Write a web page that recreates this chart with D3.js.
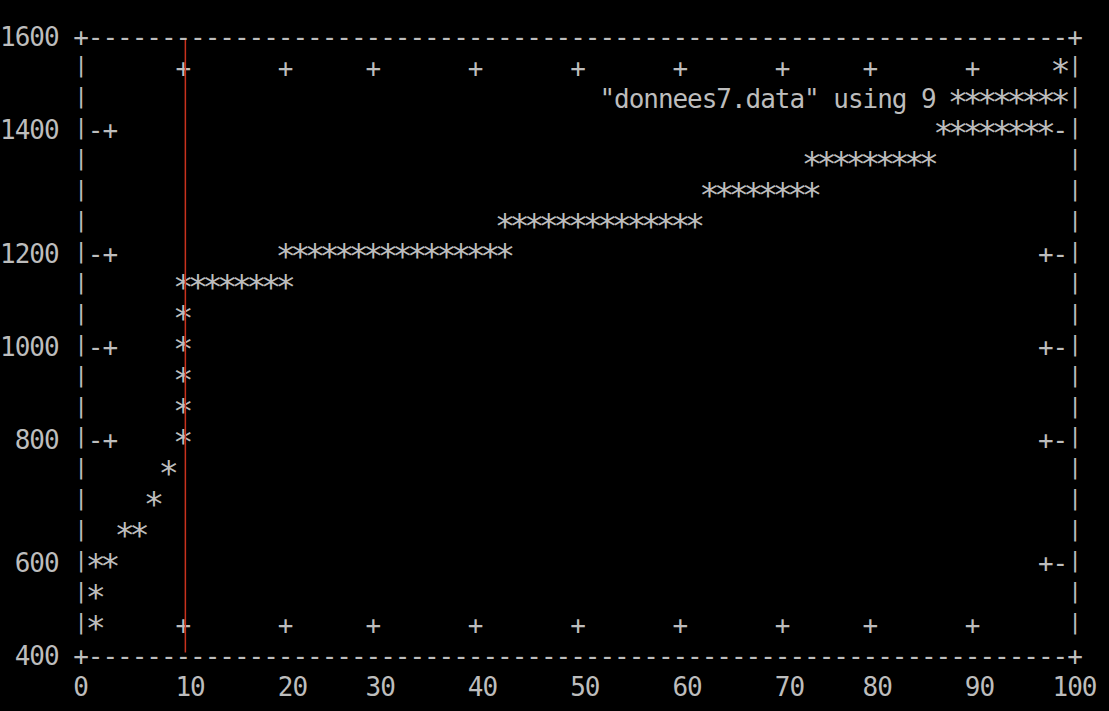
<!DOCTYPE html>
<html>
<head>
<meta charset="utf-8">
<script src="https://cdn.jsdelivr.net/npm/d3@7"></script>
<style>
  html, body { margin: 0; padding: 0; background: #000; }
  svg text { font-family: "DejaVu Sans Mono", monospace; fill: #bdbdbd; white-space: pre; }
</style>
</head>
<body>
<div id="term"></div>
<script>
// 1. Data (column 9 of donnees7.data, one value per line index 0..99)
const values = [
  450, 480, 600, 600, 650, 650, 650, 700, 700, 750,
  800, 1100, 1100, 1100, 1100, 1100, 1100, 1100, 1100, 1100,
  1100, 1200, 1200, 1200, 1200, 1200, 1200, 1200, 1200, 1200,
  1200, 1200, 1200, 1200, 1200, 1200, 1200, 1200, 1200, 1200,
  1200, 1200, 1200, 1250, 1250, 1250, 1250, 1250, 1250, 1250,
  1250, 1250, 1250, 1250, 1250, 1250, 1250, 1250, 1250, 1250,
  1250, 1250, 1250, 1300, 1300, 1300, 1300, 1300, 1300, 1300,
  1300, 1300, 1300, 1300, 1350, 1350, 1350, 1350, 1350, 1350,
  1350, 1350, 1350, 1350, 1350, 1350, 1350, 1400, 1400, 1400,
  1400, 1400, 1400, 1400, 1400, 1400, 1400, 1400, 1550, 1550
];
const xTicks = [0, 10, 20, 30, 40, 50, 60, 70, 80, 90, 100];
const yTicks = [400, 600, 800, 1000, 1200, 1400, 1600];
const keyTitle = '"donnees7.data" using 9';
const markerX = 10.5; // the red vertical line

// 2. Terminal grid (gnuplot dumb style: everything is a character cell)
const COLS = 68, ROWS = 20;
const xCol = d3.scaleLinear().domain([0, 100]).range([0, COLS]);
const yRow = d3.scaleLinear().domain([400, 1600]).range([ROWS, 0]);

// cell -> pixel
const colPx = d3.scaleLinear().domain([0, COLS]).range([81, 1075]);
const rowPx = d3.scaleLinear().domain([0, ROWS]).range([37, 655.6]);

const grid = new Map();
function put(c, r, ch) { grid.set(c + "," + r, ch); }
function putText(c, r, str) { [...str].forEach((ch, k) => { if (ch !== " ") put(c + k, r, ch); }); }

// simple line rasterizer, like the dumb terminal does it
function segment(c1, r1, c2, r2, ch) {
  const dc = c2 - c1, dr = r2 - r1;
  const n = Math.max(Math.abs(dc), Math.abs(dr));
  for (let k = 0; k <= n; k++) {
    const c = n ? Math.round(c1 + k * dc / n) : c1;
    const r = n ? Math.round(r1 + k * dr / n) : r1;
    put(c, r, ch);
  }
}

// 3. Tics (drawn first, data goes over them)
xTicks.forEach(v => {
  const c = Math.round(xCol(v));
  put(c, ROWS - 1, "+");
  put(c, 1, "+");
});
yTicks.forEach(v => {
  const r = Math.round(yRow(v));
  put(1, r, "-"); put(2, r, "+");
  put(COLS - 2, r, "+"); put(COLS - 1, r, "-");
});

// 4. The curve
const cells = values.map((v, i) => [Math.round(xCol(i)), Math.round(yRow(v))]);
for (let i = 1; i < cells.length; i++) {
  segment(cells[i - 1][0], cells[i - 1][1], cells[i][0], cells[i][1], "*");
}

// 5. Key
const sampleLen = 8;
const sampleStart = COLS - sampleLen;
putText(sampleStart - 1 - keyTitle.length, 2, keyTitle);
for (let k = 0; k < sampleLen; k++) put(sampleStart + k, 2, "*");

// 6. Border (front)
for (let c = 1; c < COLS; c++) { put(c, 0, "-"); put(c, ROWS, "-"); }
for (let r = 1; r < ROWS; r++) { put(0, r, "|"); put(COLS, r, "|"); }
[[0, 0], [COLS, 0], [0, ROWS], [COLS, ROWS]].forEach(([c, r]) => put(c, r, "+"));

// 7. Tick labels
yTicks.forEach(v => {
  const s = String(v);
  putText(-1 - s.length, Math.round(yRow(v)), s);
});
xTicks.forEach(v => {
  const s = String(v);
  putText(Math.round(xCol(v)) - Math.floor((s.length - 1) / 2), ROWS + 1, s);
});

// 8. Draw it, one <text> per terminal row
const svg = d3.select("#term")
  .append("svg")
  .attr("width", 1109)
  .attr("height", 711);

svg.append("rect").attr("width", 1109).attr("height", 711).attr("fill", "#000");

const FS = 26;
const STAR_FS = 34, BAR_FS = 22;
const rows = d3.groups(
  Array.from(grid, ([key, ch]) => {
    const [c, r] = key.split(",").map(Number);
    return { c, r, ch };
  }).sort((a, b) => a.c - b.c),
  d => d.r
);

const rowText = svg.selectAll("text.row")
  .data(rows)
  .enter()
  .append("text")
  .attr("class", "row")
  .style("font-size", FS + "px");

rowText.selectAll("tspan")
  .data(([r, cellsInRow]) => cellsInRow)
  .enter()
  .append("tspan")
  .attr("x", d => colPx(d.c))
  .attr("y", d => {
    const y = rowPx(d.r);
    if (d.ch === "*") return y + 0.44 * STAR_FS;
    if (d.ch === "|") return y + 0.2 * BAR_FS;
    return y + 0.365 * FS;
  })
  .attr("text-anchor", "middle")
  .style("font-size", d => (d.ch === "*" ? STAR_FS : d.ch === "|" ? BAR_FS : FS) + "px")
  .text(d => d.ch);

// red marker line
svg.append("line")
  .attr("x1", colPx(xCol(markerX)))
  .attr("x2", colPx(xCol(markerX)))
  .attr("y1", rowPx(0) + 3)
  .attr("y2", rowPx(ROWS) - 3)
  .attr("stroke", "#c8321e")
  .attr("stroke-width", 1.5);
</script>
</body>
</html>
